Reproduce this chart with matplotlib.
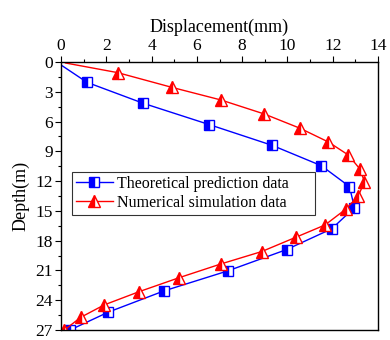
import matplotlib
matplotlib.use("Agg")
import matplotlib.pyplot as plt
from matplotlib.ticker import MultipleLocator

plt.rcParams['font.family'] = ['Liberation Serif', 'DejaVu Serif']
plt.rcParams['mathtext.fontset'] = 'stix'

theo_disp = [0.0, 1.15, 3.62, 6.54, 9.33, 11.5, 12.74, 12.96, 11.96, 9.96, 7.36, 4.55, 2.09, 0.4]
theo_depth = [0.3, 2.05, 4.15, 6.3, 8.4, 10.45, 12.55, 14.67, 16.8, 18.9, 21.05, 23.06, 25.2, 27.0]

num_disp = [0.2, 2.5, 4.89, 7.07, 8.98, 10.56, 11.81, 12.69, 13.2, 13.4, 13.13, 12.57, 11.66,
            10.38, 8.86, 7.07, 5.23, 3.46, 1.91, 0.88, 0.15]
num_depth = [0.1, 1.07, 2.55, 3.83, 5.24, 6.68, 8.06, 9.37, 10.78, 12.05, 13.5, 14.84, 16.42,
             17.65, 19.1, 20.34, 21.72, 23.13, 24.47, 25.71, 27.0]

x_ticks = [0, 2, 4, 6, 8, 10, 12, 14]
y_ticks = [0, 3, 6, 9, 12, 15, 18, 21, 24, 27]

fig = plt.figure(figsize=(3.9, 3.4), dpi=100)
ax = fig.add_axes([61/390, 1-330/340, (378-61)/390, (330-62)/340])

ax.plot(theo_disp, theo_depth, color='#0000ff', lw=1.0, marker='s', markersize=7,
        fillstyle='left', markerfacecolor='#0000ff', markerfacecoloralt='white',
        markeredgecolor='#0000ff', markeredgewidth=1.0, markevery=list(range(1, len(theo_disp))),
        label='Theoretical prediction data')
ax.plot(num_disp, num_depth, color='#ff0000', lw=1.0, marker='^', markersize=8.5,
        fillstyle='left', markerfacecolor='#ff0000', markerfacecoloralt='white',
        markeredgecolor='#ff0000', markeredgewidth=1.0, markevery=list(range(1, len(num_disp))),
        label='Numerical simulation data')

ax.set_xlim(0, 14)
ax.set_ylim(27, 0)
ax.set_xticks(x_ticks)
ax.set_yticks(y_ticks)
ax.xaxis.set_minor_locator(MultipleLocator(1))
ax.yaxis.set_minor_locator(MultipleLocator(1.5))
ax.xaxis.tick_top()
ax.xaxis.set_label_position('top')
ax.tick_params(axis='both', which='both', direction='out', labelsize=12.5, top=True, bottom=False,
               left=True, right=False, pad=2)
ax.tick_params(which='major', length=4, width=0.8)
ax.tick_params(which='minor', length=2, width=0.8)
ax.set_xlabel('Displacement(mm)', fontsize=13, labelpad=4)
ax.set_ylabel('Depth(m)', fontsize=13, labelpad=4)
for s in ax.spines.values():
    s.set_linewidth(1.0)

leg = ax.legend(loc='upper left', bbox_to_anchor=(0.035, 0.0, 0.767, 0.59), mode='expand',
                fontsize=11.5, frameon=True,
                fancybox=False, edgecolor='black', handlelength=2.3, borderpad=0.25,
                labelspacing=0.2, handletextpad=0.25, borderaxespad=0)
leg.get_frame().set_linewidth(0.8)

fig.savefig('out.png', dpi=100)
